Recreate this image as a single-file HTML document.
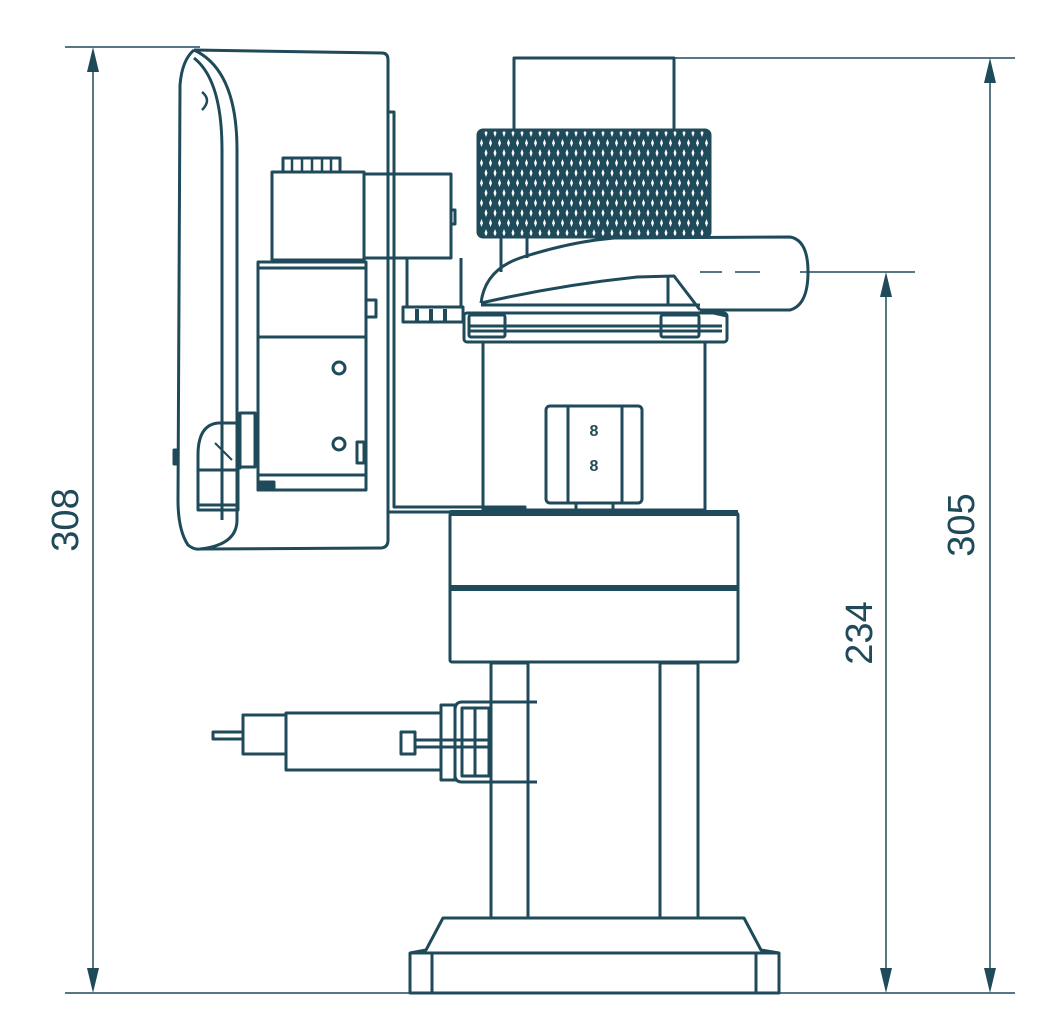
<!DOCTYPE html>
<html><head><meta charset="utf-8"><style>html,body{margin:0;padding:0;background:#fff}svg{display:block}</style></head>
<body>
<svg width="1041" height="1027" viewBox="0 0 1041 1027" xmlns="http://www.w3.org/2000/svg">
<defs>
<pattern id="kn" x="486" y="138" width="9" height="20" patternUnits="userSpaceOnUse">
<rect width="9" height="20" fill="#1f4a5a"/>
<path d="M4.5 1 L6 5 L4.5 9 L3 5Z" fill="#fff"/>
<path d="M0 11 L1.5 15 L0 19 L-1.5 15Z M9 11 L10.5 15 L9 19 L7.5 15Z" fill="#fff"/>
</pattern>
</defs>
<g fill="none" stroke="#1f4a5a" stroke-width="3" stroke-linejoin="round">
<!-- dimension lines -->
<g stroke-width="1.5">
<line x1="65" y1="47" x2="200" y2="47"/>
<line x1="65" y1="993" x2="1015" y2="993"/>
<line x1="675" y1="58" x2="1015" y2="58"/>
<line x1="800" y1="272" x2="915" y2="272"/>
<line x1="700" y1="272" x2="722" y2="272"/>
<line x1="735" y1="272" x2="760" y2="272"/>
<line x1="93" y1="55" x2="93" y2="985"/>
<line x1="990" y1="66" x2="990" y2="985"/>
<line x1="886" y1="280" x2="886" y2="985"/>
</g>
<g fill="#1f4a5a" stroke="none">
<path d="M93 47 L87 72 L99 72Z"/><path d="M93 993 L87 968 L99 968Z"/>
<path d="M990 58 L984 83 L996 83Z"/><path d="M990 993 L984 968 L996 968Z"/>
<path d="M886 272 L880 297 L892 297Z"/><path d="M886 993 L880 968 L892 968Z"/>
</g>
<!-- enclosure -->
<path d="M194 50 L382 53 Q388 53 388 60 L388 540 Q388 548 380 548 L200 549"/>
<path d="M194 50 Q182 60 180 85 L178 500 Q178 530 188 545 Q194 550 200 549"/>
<path d="M194 50 Q237 70 237 150 L237 520 Q237 545 200 549"/>
<path d="M194 58 Q222 80 222 150 L222 520"/>
<path d="M202 92 Q212 100 202 110" stroke-width="2.5"/>
<path d="M388 112 L394 112 L394 507 L525 507 L525 512 L388 512"/>
<!-- solenoid -->
<path d="M283 172 L283 158 L340 158 L340 172"/>
<g stroke-width="2.5"><line x1="292" y1="158" x2="292" y2="172"/><line x1="302" y1="158" x2="302" y2="172"/><line x1="312" y1="158" x2="312" y2="172"/><line x1="322" y1="158" x2="322" y2="172"/><line x1="331" y1="158" x2="331" y2="172"/></g>
<rect x="272" y="172" width="92" height="88"/>
<rect x="364" y="174" width="87" height="84"/>
<rect x="451" y="210" width="4" height="14"/>
<path d="M407 258 L407 307 L461 307 L461 258"/>
<rect x="403" y="307" width="60" height="15"/>
<g stroke-width="4"><line x1="417" y1="309" x2="417" y2="321"/><line x1="431" y1="309" x2="431" y2="321"/><line x1="445" y1="309" x2="445" y2="321"/></g>
<!-- valve body -->
<rect x="258" y="262" width="108" height="228"/>
<line x1="258" y1="268" x2="366" y2="268"/>
<line x1="258" y1="337" x2="366" y2="337"/>
<line x1="258" y1="475" x2="366" y2="475"/>
<rect x="366" y="300" width="10" height="17"/>
<rect x="357" y="442" width="7" height="21"/>
<circle cx="339" cy="368" r="6"/>
<circle cx="339" cy="444" r="6"/>
<rect x="258" y="482" width="16" height="8" fill="#1f4a5a"/>
<!-- elbow -->
<path d="M198 510 L198 455 Q198 425 218 423 L240 423 L240 468 L238 468 L238 510Z"/>
<line x1="198" y1="470" x2="238" y2="470"/>
<line x1="198" y1="505" x2="238" y2="505"/>
<line x1="215" y1="443" x2="232" y2="460" stroke-width="2"/>
<rect x="240" y="413" width="15" height="54"/>
<rect x="174" y="450" width="4" height="14" fill="#1f4a5a"/>
<!-- knob cap -->
<rect x="514" y="58" width="160" height="72"/>
<rect x="478" y="130" width="232" height="107" rx="5" fill="url(#kn)"/>
<!-- fan housing -->
<line x1="501" y1="237" x2="501" y2="272"/>
<line x1="527" y1="237" x2="527" y2="258"/>
<path d="M481 303 Q485 270 520 258 Q560 245 596 240 L614 238 L790 237 Q808 240 808 272 Q808 305 790 310 L700 310"/>
<path d="M481 303 Q560 285 637 277 L674 276 L700 310"/>
<line x1="668" y1="277" x2="668" y2="305"/>
<line x1="481" y1="305" x2="700" y2="305"/>
<!-- flange -->
<rect x="464" y="313" width="263" height="29" rx="3"/>
<line x1="468" y1="326" x2="722" y2="326"/>
<line x1="468" y1="331" x2="722" y2="331"/>
<rect x="469" y="315" width="36" height="22" rx="2"/>
<rect x="661" y="315" width="38" height="22" rx="2"/>
<line x1="700" y1="310" x2="727" y2="316"/>
<!-- body -->
<rect x="483" y="342" width="222" height="168"/>
<rect x="546" y="406" width="96" height="97" rx="4"/>
<line x1="568" y1="406" x2="568" y2="503"/>
<line x1="622" y1="406" x2="622" y2="503"/>
<path d="M576 503 L576 510 M613 503 L613 510"/>
<!-- lower block -->
<line x1="450" y1="513" x2="738" y2="513" stroke-width="6"/>
<rect x="450" y="513" width="288" height="149" rx="2"/>
<line x1="450" y1="588" x2="738" y2="588" stroke-width="6"/>
<!-- legs -->
<rect x="491" y="663" width="37" height="255"/>
<rect x="660" y="663" width="38" height="255"/>
<!-- base -->
<path d="M443 918 L744 918 L761 950 L779 953 L779 993 L410 993 L410 953 L426 950 Z"/>
<line x1="410" y1="953" x2="779" y2="953"/>
<line x1="432" y1="953" x2="432" y2="993"/>
<line x1="756" y1="953" x2="756" y2="993"/>
<!-- syringe -->
<rect x="213" y="732" width="30" height="7"/>
<rect x="243" y="715" width="43" height="39"/>
<rect x="286" y="713" width="155" height="57"/>
<rect x="401" y="732" width="14" height="22"/>
<rect x="415" y="740" width="74" height="7"/>
<rect x="441" y="705" width="14" height="75"/>
<path d="M537 702 L462 702 Q455 702 455 710 L455 775 Q455 782 462 782 L537 782"/>
<rect x="462" y="708" width="27" height="68"/>
<line x1="475" y1="708" x2="475" y2="776"/>
</g>
<g fill="#1f4a5a" font-family="Liberation Sans, sans-serif">
<text x="594" y="436" font-size="16" font-weight="bold" text-anchor="middle">8</text>
<text x="594" y="471" font-size="16" font-weight="bold" text-anchor="middle">8</text>
<text transform="translate(78,520) rotate(-90)" font-size="38" text-anchor="middle">308</text>
<text transform="translate(974,525) rotate(-90)" font-size="38" text-anchor="middle">305</text>
<text transform="translate(872,633) rotate(-90)" font-size="38" text-anchor="middle">234</text>
</g>
</svg>
</body></html>
